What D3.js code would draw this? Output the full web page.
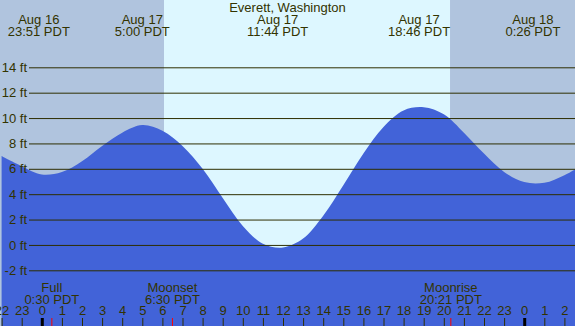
<!DOCTYPE html>
<html lang="en">
<head>
<meta charset="UTF-8">
<title>Everett tides</title>
<script src="https://cdn.jsdelivr.net/npm/d3@7"></script>
<style>
  body { margin: 0; background: #fff; }
  svg { display: block; }
  text { font-family: "Liberation Sans", Arial, sans-serif; font-size: 13px; fill: #333300; }
</style>
</head>
<body>
<script>
var hours   = [-2, -1, 0, 1, 2, 3, 4, 5, 6, 7, 8, 9, 10, 11, 12, 13, 14, 15, 16, 17, 18, 19, 20, 21, 22, 23, 24, 25, 26, 27];
var heights = [7.0, 6.2, 5.55, 5.75, 6.6, 7.8, 8.85, 9.45, 9.0, 7.8, 6.0, 3.7, 1.5, 0.1, -0.2, 0.5, 2.3, 4.7, 7.2, 9.3, 10.6, 10.85, 10.3, 8.85, 7.2, 5.75, 4.95, 4.9, 5.5, 6.4];

// high / low labels along the top
var extremeTimes = [-0.15, 5.0, 11.733, 18.767, 24.433];
var extremeDays  = ["Aug 16", "Aug 17", "Aug 17", "Aug 17", "Aug 18"];
var extremeLabel = ["23:51 PDT", "5:00 PDT", "11:44 PDT", "18:46 PDT", "0:26 PDT"];

// moon events along the bottom
var moonTimes  = [0.5, 6.5, 20.35];
var moonNames  = ["Full", "Moonset", "Moonrise"];
var moonLabels = ["0:30 PDT", "6:30 PDT", "20:21 PDT"];

// daylight
var sunrise = 6.08, sunset = 20.31;

var ftTicks = [-2, 0, 2, 4, 6, 8, 10, 12, 14];
var hourTicks = d3.range(-2, 27);

var width = 575, height = 326;

var x = d3.scaleLinear().domain([0, 24]).range([41.8, 524.2]);
var y = d3.scaleLinear().domain([-2, 14]).range([270.3, 67.3]);

var svg = d3.select("body").append("svg")
  .attr("width", width)
  .attr("height", height);

// night / day background
svg.append("rect").attr("x", 0).attr("y", 0).attr("width", width).attr("height", height).attr("fill", "#b0c4de");
svg.append("rect")
  .attr("x", x(sunrise)).attr("y", 0)
  .attr("width", x(sunset) - x(sunrise)).attr("height", height)
  .attr("fill", "#ddf7ff");

// water
var pts = hours.map(function(h, i) { return [h, heights[i]]; });
var area = d3.area()
  .x(function(d) { return x(d[0]); })
  .y0(height)
  .y1(function(d) { return y(d[1]); })
  .curve(d3.curveCatmullRom);

svg.append("path")
  .datum(pts)
  .attr("d", area)
  .attr("fill", "#4263d8");

// ft grid
var yAxis = svg.append("g")
  .attr("transform", "translate(29,0)")
  .call(d3.axisLeft(y).tickValues(ftTicks).tickSize(-(width - 29)).tickPadding(2)
    .tickFormat(function(d) { return d + " ft"; }));
yAxis.select(".domain").remove();
yAxis.selectAll("line").attr("stroke", "#2e2e00").attr("stroke-width", 1);
yAxis.selectAll("text").attr("font-family", "Liberation Sans, Arial, sans-serif").attr("font-size", 12).attr("fill", "#333300");

// hour ticks along the bottom
var xAxis = svg.append("g")
  .attr("transform", "translate(0," + height + ")")
  .call(d3.axisTop(x).tickValues(hourTicks).tickSize(8).tickPadding(3)
    .tickFormat(function(d) { return (d + 24) % 24; }));
xAxis.select(".domain").remove();
xAxis.selectAll("line").attr("stroke", "#2e2e00").attr("stroke-width", 1);
xAxis.selectAll(".tick").filter(function(d) { return d % 24 === 0; })
  .select("line").attr("stroke", "#000").attr("stroke-width", 3);
xAxis.selectAll("text").attr("font-family", "Liberation Sans, Arial, sans-serif").attr("font-size", 12).attr("fill", "#333300");

// moon markers
svg.selectAll(".moontick").data(moonTimes).enter().append("line")
  .attr("class", "moontick")
  .attr("x1", function(d) { return x(d); }).attr("x2", function(d) { return x(d); })
  .attr("y1", height - 8).attr("y2", height)
  .attr("stroke", "#ff0000").attr("stroke-width", 1);

var moon = svg.selectAll(".moon").data(moonTimes).enter().append("g").attr("class", "moon");
moon.append("text")
  .attr("x", function(d) { return x(d); }).attr("y", 291.5)
  .attr("text-anchor", "middle")
  .text(function(d, i) { return moonNames[i]; });
moon.append("text")
  .attr("x", function(d) { return x(d); }).attr("y", 303.5)
  .attr("text-anchor", "middle")
  .text(function(d, i) { return moonLabels[i]; });

// title
svg.append("text")
  .attr("x", width / 2).attr("y", 12)
  .attr("text-anchor", "middle")
  .text("Everett, Washington");

// extreme labels
var ext = svg.selectAll(".ext").data(extremeTimes).enter().append("g").attr("class", "ext");
ext.append("text")
  .attr("x", function(d) { return x(d); }).attr("y", 24)
  .attr("text-anchor", "middle")
  .text(function(d, i) { return extremeDays[i]; });
ext.append("text")
  .attr("x", function(d) { return x(d); }).attr("y", 36)
  .attr("text-anchor", "middle")
  .text(function(d, i) { return extremeLabel[i]; });
</script>
</body>
</html>
